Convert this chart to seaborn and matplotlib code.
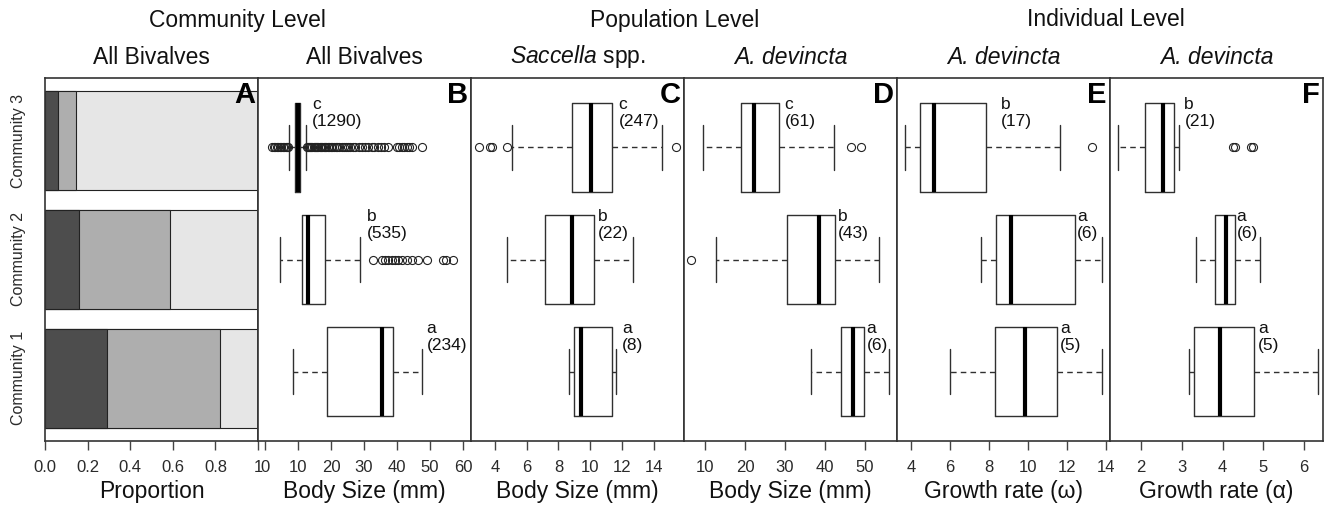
import numpy as np
import pandas as pd
import matplotlib
matplotlib.use("Agg")
import matplotlib.pyplot as plt
import seaborn as sns

# ---------------- data ----------------
communities = ["Community 1", "Community 2", "Community 3"]

# Panel A: proportions of three groups (dark, mid, light)
prop_group1 = [0.29, 0.16, 0.06]
prop_group2 = [0.53, 0.425, 0.085]
prop_group3 = [0.18, 0.415, 0.855]
prop_ticks = [0.0, 0.2, 0.4, 0.6, 0.8, 1.0]
prop_ticklabels = ["0.0", "0.2", "0.4", "0.6", "0.8", "1"]

# Panel B: All bivalves body size (mm)
b_q1 = [18.9, 11.1, 9.1]
b_med = [35.4, 12.9, 9.9]
b_q3 = [38.8, 18.2, 10.6]
b_lo = [8.4, 4.7, 7.4]
b_hi = [47.5, 28.9, 12.4]
b_out1 = []
b_out2 = [32.8, 35.4, 36.4, 37.4, 38.4, 39.4, 40.4, 41.4, 42.9, 44.4, 46.5, 49.0,
          54.0, 54.8, 56.9]
b_out3 = [2.2, 2.7, 3.1, 3.6, 4.0, 4.5, 5.0, 5.4, 5.9, 6.3, 6.8, 7.1,
          12.7, 13.0, 13.3, 13.7, 14.0, 14.4, 14.8, 15.1, 15.5, 15.9, 16.2, 16.6,
          17.0, 17.4, 17.8, 18.1, 18.5, 19.0, 19.4, 19.9, 20.3, 20.8, 21.4, 21.9,
          22.5, 23.2, 23.8, 24.4, 25.1, 25.9, 26.6, 27.3, 28.6, 29.3, 30.4, 31.2,
          32.3, 33.0, 34.1, 35.2, 36.0, 37.4, 40.0, 40.7, 41.4, 42.1, 42.9, 43.6,
          44.4, 47.5]
b_letters = ["a", "b", "c"]
b_n = [234, 535, 1290]
b_ticks = [0, 10, 20, 30, 40, 50, 60]

# Panel C: Saccella spp. body size (mm)
c_q1 = [8.98, 7.16, 8.87]
c_med = [9.44, 8.87, 10.02]
c_q3 = [11.38, 10.23, 11.34]
c_lo = [8.69, 4.75, 5.07]
c_hi = [11.63, 12.68, 14.52]
c_out1 = []
c_out2 = []
c_out3 = [2.98, 3.71, 3.82, 4.75, 15.4]
c_letters = ["a", "b", "c"]
c_n = [8, 22, 247]
c_ticks = [4, 6, 8, 10, 12, 14]

# Panel D: A. devincta body size (mm)
d_q1 = [44.1, 30.5, 19.0]
d_med = [46.9, 38.4, 22.2]
d_q3 = [49.8, 42.4, 28.6]
d_lo = [36.4, 12.7, 9.4]
d_hi = [56.1, 53.6, 42.2]
d_out1 = []
d_out2 = [6.5]
d_out3 = [46.4, 49.1]
d_letters = ["a", "b", "c"]
d_n = [6, 43, 61]
d_ticks = [10, 20, 30, 40, 50]

# Panel E: A. devincta growth rate (omega)
e_q1 = [8.28, 8.37, 4.48]
e_med = [9.85, 9.10, 5.19]
e_q3 = [11.48, 12.38, 7.82]
e_lo = [5.98, 7.57, 3.71]
e_hi = [13.81, 13.78, 11.65]
e_out1 = []
e_out2 = []
e_out3 = [13.27]
e_letters = ["a", "a", "b"]
e_n = [5, 6, 17]
e_ticks = [4, 6, 8, 10, 12, 14]

# Panel F: A. devincta growth rate (alpha)
f_q1 = [3.30, 3.82, 2.08]
f_med = [3.93, 4.09, 2.54]
f_q3 = [4.78, 4.30, 2.81]
f_lo = [3.17, 3.34, 1.42]
f_hi = [6.35, 4.91, 2.93]
f_out1 = []
f_out2 = []
f_out3 = [4.26, 4.30, 4.71, 4.74]
f_letters = ["a", "a", "b"]
f_n = [5, 6, 21]
f_ticks = [2, 3, 4, 5, 6]

# ---------------- style ----------------
sns.set_style("ticks")
plt.rcParams["font.family"] = ["Liberation Sans", "DejaVu Sans"]
plt.rcParams["mathtext.fontset"] = "custom"
plt.rcParams["mathtext.rm"] = "Liberation Sans"
plt.rcParams["mathtext.it"] = "Liberation Sans:italic"

INK = "#2a2a2a"
W, H = 1324, 507
fig = plt.figure(figsize=(W / 100, H / 100), dpi=100)
left_px, right_px, top_px, bot_px = 45, 1323, 78, 441
fig.subplots_adjust(left=left_px / W, right=right_px / W,
                    top=1 - top_px / H, bottom=1 - bot_px / H, wspace=0)
axes = fig.subplots(1, 6)

def style_axis(ax):
    for s in ax.spines.values():
        s.set_visible(True)
        s.set_linewidth(1.2)
        s.set_color("#333333")
    ax.tick_params(axis="x", direction="out", length=6.5, width=1.0,
                   color="#444444", pad=7, labelsize=12, labelcolor=INK)

# ---- Panel A (seaborn stacked horizontal bars) ----
ax = axes[0]
df = pd.DataFrame({"community": communities,
                   "g1": prop_group1, "g2": prop_group2, "g3": prop_group3})
df["cum1"] = df["g1"]
df["cum2"] = df["g1"] + df["g2"]
df["cum3"] = df["g1"] + df["g2"] + df["g3"]
order = communities[::-1]
for col, colr in [("cum3", "#E6E6E6"), ("cum2", "#AEAEAE"), ("cum1", "#4D4D4D")]:
    sns.barplot(data=df, x=col, y="community", order=order, orient="h",
                color=colr, saturation=1, edgecolor="#222222", linewidth=0.8,
                width=1 / 1.2, errorbar=None, ax=ax)
ax.set_xlim(0, 1)
ax.set_ylim(2.53, -0.53)
ax.set_xticks(prop_ticks)
ax.set_xticklabels(prop_ticklabels)
ax.set_yticks([0, 1, 2])
ax.set_yticklabels(order, rotation=90, va="center", fontsize=11.5, color=INK)
ax.tick_params(axis="y", length=0, pad=14)
ax.set_ylabel("")
ax.set_xlabel("Proportion", fontsize=16.5, labelpad=4, color="#111111")
style_axis(ax)

# ---- Box panels ----
panels = [
    dict(q1=b_q1, med=b_med, q3=b_q3, lo=b_lo, hi=b_hi, out=[b_out1, b_out2, b_out3],
         let=b_letters, n=b_n, ticks=b_ticks, xlim=(-2.1, 62.4),
         lab_x=[49.0, 30.8, 14.3], xlabel="Body Size (mm)", tag="B"),
    dict(q1=c_q1, med=c_med, q3=c_q3, lo=c_lo, hi=c_hi, out=[c_out1, c_out2, c_out3],
         let=c_letters, n=c_n, ticks=c_ticks, xlim=(2.5, 15.9),
         lab_x=[12.0, 10.5, 11.78], xlabel="Body Size (mm)", tag="C"),
    dict(q1=d_q1, med=d_med, q3=d_q3, lo=d_lo, hi=d_hi, out=[d_out1, d_out2, d_out3],
         let=d_letters, n=d_n, ticks=d_ticks, xlim=(4.75, 58.0),
         lab_x=[50.4, 43.2, 29.9], xlabel="Body Size (mm)", tag="D"),
    dict(q1=e_q1, med=e_med, q3=e_q3, lo=e_lo, hi=e_hi, out=[e_out1, e_out2, e_out3],
         let=e_letters, n=e_n, ticks=e_ticks, xlim=(3.28, 14.2),
         lab_x=[11.65, 12.5, 8.59], xlabel="Growth rate (\u03c9)", tag="E"),
    dict(q1=f_q1, med=f_med, q3=f_q3, lo=f_lo, hi=f_hi, out=[f_out1, f_out2, f_out3],
         let=f_letters, n=f_n, ticks=f_ticks, xlim=(1.23, 6.47),
         lab_x=[4.87, 4.34, 3.06], xlabel="Growth rate (\u03b1)", tag="F"),
]

positions = [1, 2, 3]
line_c = "#303030"
for ax, p in zip(axes[1:], panels):
    stats = []
    for i in range(3):
        stats.append(dict(q1=p["q1"][i], med=p["med"][i], q3=p["q3"][i],
                          whislo=p["lo"][i], whishi=p["hi"][i],
                          fliers=np.array(p["out"][i], dtype=float), label=""))
    kw = dict(positions=positions, widths=0.8, capwidths=0.4, showfliers=True,
              boxprops=dict(color=line_c, linewidth=1.0),
              medianprops=dict(color="black", linewidth=3.0, solid_capstyle="butt"),
              whiskerprops=dict(color=line_c, linewidth=1.0, linestyle=(0, (4, 3))),
              capprops=dict(color=line_c, linewidth=1.0),
              flierprops=dict(marker="o", markerfacecolor="none",
                              markeredgecolor="#222222", markersize=5.8,
                              markeredgewidth=0.8, linestyle="none"))
    try:
        ax.bxp(stats, orientation="horizontal", **kw)
    except TypeError:
        ax.bxp(stats, vert=False, **kw)
    ax.set_ylim(0.38, 3.62)
    ax.set_yticks([])
    ax.set_xlim(*p["xlim"])
    ax.set_xticks(p["ticks"])
    ax.set_xticklabels([str(t) for t in p["ticks"]])
    for i, pos in enumerate(positions):
        ax.text(p["lab_x"][i], pos + 0.31, f"{p['let'][i]}\n({p['n'][i]})",
                ha="left", va="center", fontsize=12.5, linespacing=1.15, color="#111111")
    ax.set_xlabel(p["xlabel"], fontsize=16.5, labelpad=4, color="#111111")
    style_axis(ax)

# panel tags
for ax, tag in zip(axes, ["A", "B", "C", "D", "E", "F"]):
    ax.text(0.985, 0.992, tag, transform=ax.transAxes, ha="right", va="top",
            fontsize=21, fontweight="bold", color="black")

# headers
def fx(px):
    return px / W

def fy(py):
    return 1 - py / H

fig.text(fx(237), fy(20), "Community Level", ha="center", va="center", fontsize=16.5, color="#111111")
fig.text(fx(675), fy(20), "Population Level", ha="center", va="center", fontsize=16.5, color="#111111")
fig.text(fx(1106), fy(20), "Individual Level", ha="center", va="center", fontsize=16.5, color="#111111")

subtitles = ["All Bivalves", "All Bivalves", r"$\it{Saccella}$ spp.",
             "A. devincta", "A. devincta", "A. devincta"]
styles = ["normal", "normal", "normal", "italic", "italic", "italic"]
for ax, sub, st in zip(axes, subtitles, styles):
    bb = ax.get_position()
    fig.text((bb.x0 + bb.x1) / 2, fy(57), sub, ha="center", va="center",
             fontsize=16.5, fontstyle=st, color="#111111")

fig.savefig("out.png", dpi=100)
